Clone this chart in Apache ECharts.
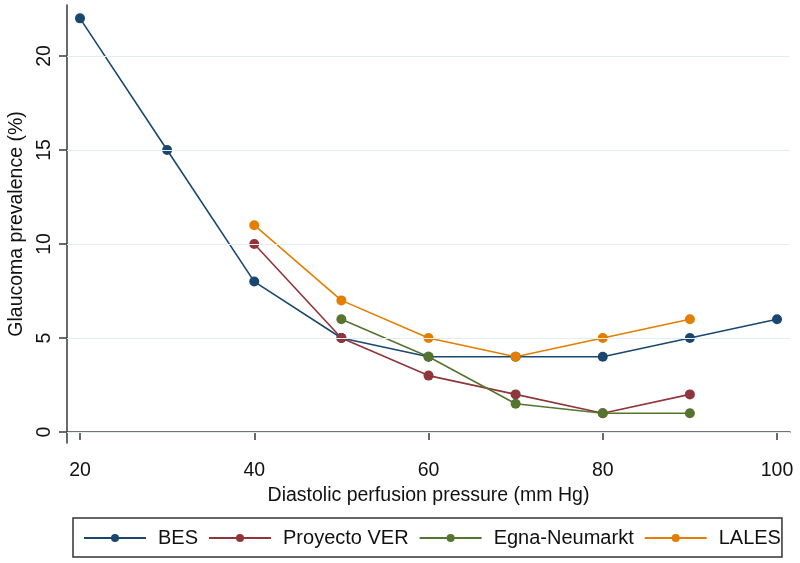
<!DOCTYPE html>
<html>
<head>
<meta charset="utf-8">
<script src="https://cdn.jsdelivr.net/npm/echarts@6/dist/echarts.min.js"></script>
<style>html,body{margin:0;padding:0;background:#fff}#c{width:800px;height:563px}</style>
</head>
<body>
<div id="c"></div>
<script>
const xTicks = [20, 40, 60, 80, 100];
const yTicks = [0, 5, 10, 15, 20];
const bes = [[20, 22], [30, 15], [40, 8], [50, 5], [60, 4], [70, 4], [80, 4], [90, 5], [100, 6]];
const proyectoVER = [[40, 10], [50, 5], [60, 3], [70, 2], [80, 1], [90, 2]];
const egnaNeumarkt = [[50, 6], [60, 4], [70, 1.5], [80, 1], [90, 1]];
const lales = [[40, 11], [50, 7], [60, 5], [70, 4], [80, 5], [90, 6]];
const seriesNames = ['BES', 'Proyecto VER', 'Egna-Neumarkt', 'LALES'];
const colors = ['#1a476f', '#90353b', '#55752f', '#e37e00'];

const font = 'Liberation Sans, Arial, sans-serif';
const chart = echarts.init(document.getElementById('c'));
function mk(name, data, color) {
  return {
    name: name, type: 'line', data: data,
    symbol: 'circle', symbolSize: 10,
    itemStyle: { color: color },
    lineStyle: { color: color, width: 1.6 },
    emphasis: { disabled: true }
  };
}
chart.setOption({
  animation: false,
  backgroundColor: '#fff',
  grid: { left: 67, right: 10, top: 5, bottom: 120, containLabel: false, outerBoundsMode: 'none' },
  xAxis: {
    type: 'value', min: 18.508, max: 101.49,
    name: 'Diastolic perfusion pressure (mm Hg)', nameLocation: 'middle', nameGap: 43,
    nameTextStyle: { fontFamily: font, fontSize: 19.5, color: '#111' },
    axisLine: { show: true, lineStyle: { color: '#444', width: 1.6 } },
    axisTick: { show: true, length: 8, lineStyle: { color: '#444', width: 1.6 }, customValues: xTicks },
    axisLabel: { fontFamily: font, fontSize: 19.5, color: '#111', margin: 18, customValues: xTicks },
    splitLine: { show: false }
  },
  yAxis: {
    type: 'value', min: -0.585, max: 22.71,
    name: 'Glaucoma prevalence (%)', nameLocation: 'middle', nameGap: 40,
    nameTextStyle: { fontFamily: font, fontSize: 19.5, color: '#111' },
    axisLine: { show: true, lineStyle: { color: '#444', width: 1.6 } },
    axisTick: { show: true, length: 8, lineStyle: { color: '#444', width: 1.6 }, customValues: yTicks },
    axisLabel: { fontFamily: font, fontSize: 19.5, color: '#111', margin: 12, rotate: 90, customValues: yTicks },
    splitLine: { show: false }
  },
  legend: {
    data: seriesNames,
    left: 73, top: 518,
    orient: 'horizontal',
    itemWidth: 62, itemHeight: 10, itemGap: 10,
    padding: [10, 1, 9, 10],
    borderColor: '#333', borderWidth: 1.5, borderRadius: 0,
    textStyle: { fontFamily: font, fontSize: 20, color: '#111', padding: [0, 0, 0, 7] }
  },
  series: [
    {
      name: 'grid', type: 'line', data: [], silent: true, z: 1,
      markLine: {
        silent: true, symbol: ['none', 'none'], label: { show: false },
        lineStyle: { color: '#e4edf0', width: 1.2, type: 'solid' },
        emphasis: { disabled: true },
        data: yTicks.map(v => ({ yAxis: v }))
      }
    },
    mk(seriesNames[0], bes, colors[0]),
    mk(seriesNames[1], proyectoVER, colors[1]),
    mk(seriesNames[2], egnaNeumarkt, colors[2]),
    mk(seriesNames[3], lales, colors[3])
  ]
});
</script>
</body>
</html>
